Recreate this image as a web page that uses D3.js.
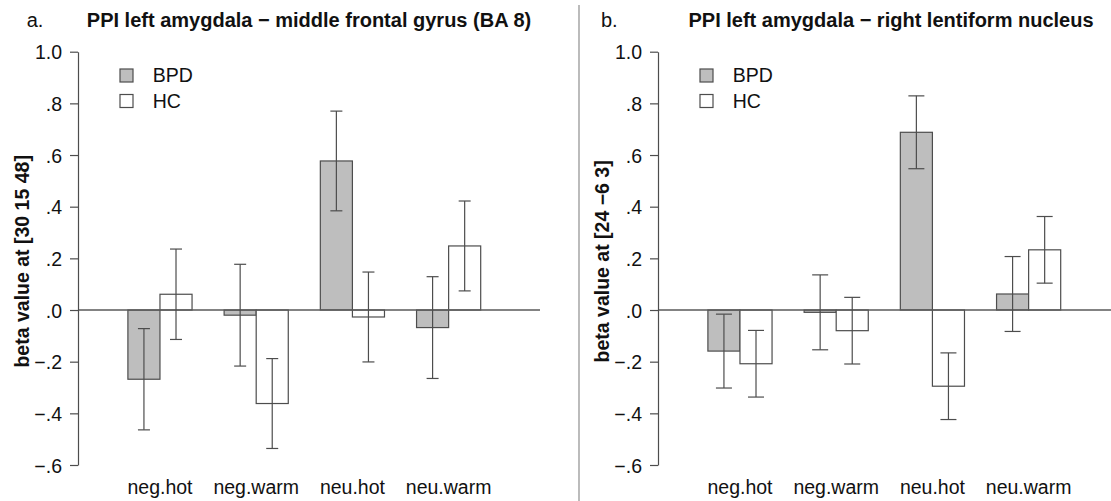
<!DOCTYPE html>
<html>
<head>
<meta charset="utf-8">
<script src="https://cdn.jsdelivr.net/npm/d3@7"></script>
<style>
  html, body { margin: 0; padding: 0; background: #fff; }
  svg { display: block; }
  text { font-family: "Liberation Sans", Arial, sans-serif; fill: #111; }
</style>
</head>
<body>
<svg id="chart" width="1111" height="501"></svg>
<script>
// ---------------- data ----------------
const categories = ["neg.hot", "neg.warm", "neu.hot", "neu.warm"];
const groups = ["BPD", "HC"];

const panelLetters = ["a.", "b."];
const panelTitles = [
  "PPI left amygdala \u2212 middle frontal gyrus (BA 8)",
  "PPI left amygdala \u2212 right lentiform nucleus"
];
const yLabels = ["beta value at [30 15 48]", "beta value at [24 \u22126 3]"];

// panel a
const bpdA = [-0.268, -0.020, 0.577, -0.068];
const bpdAErr = [0.196, 0.197, 0.193, 0.197];
const hcA = [0.061, -0.362, -0.027, 0.248];
const hcAErr = [0.175, 0.174, 0.174, 0.174];

// panel b
const bpdB = [-0.159, -0.009, 0.688, 0.062];
const bpdBErr = [0.143, 0.145, 0.141, 0.145];
const hcB = [-0.208, -0.080, -0.295, 0.233];
const hcBErr = [0.129, 0.129, 0.129, 0.129];

const yTicks = [1.0, 0.8, 0.6, 0.4, 0.2, 0.0, -0.2, -0.4, -0.6];
const yTickLabels = ["1.0", ".8", ".6", ".4", ".2", ".0", "\u2212.2", "\u2212.4", "\u2212.6"];

// ---------------- layout ----------------
const svg = d3.select("#chart");
const fills = { BPD: "#bebebe", HC: "#ffffff" };
const lineCol = "#4d4d4d";
const fs = 19.5;

const y = d3.scaleLinear().domain([-0.6, 1.0]).range([465, 51.7]);

function drawPanel(idx, dx, bpd, bpdErr, hc, hcErr, capW, titleShift) {
  const g = svg.append("g").attr("transform", `translate(${dx},0)`);
  const axisX = 78, plotRight = 540;

  const x0 = d3.scaleBand().domain(categories).range([127.9, 480.7])
    .paddingInner(1 / 3).paddingOuter(0);
  const x1 = d3.scaleBand().domain(groups).range([0, x0.bandwidth()]).padding(0);

  const rows = [];
  categories.forEach((c, i) => {
    rows.push({ cat: c, grp: "BPD", v: bpd[i], e: bpdErr[i] });
    rows.push({ cat: c, grp: "HC", v: hc[i], e: hcErr[i] });
  });

  // bars
  g.selectAll("rect.bar").data(rows).join("rect")
    .attr("class", "bar")
    .attr("x", d => x0(d.cat) + x1(d.grp))
    .attr("width", x1.bandwidth())
    .attr("y", d => Math.min(y(d.v), y(0)))
    .attr("height", d => Math.abs(y(d.v) - y(0)))
    .attr("fill", d => fills[d.grp])
    .attr("stroke", lineCol)
    .attr("stroke-width", 1.2);

  // zero line
  g.append("line")
    .attr("x1", axisX).attr("x2", plotRight)
    .attr("y1", y(0)).attr("y2", y(0))
    .attr("stroke", "#5a5a5a").attr("stroke-width", 1.5);

  // error bars
  const eb = g.selectAll("g.err").data(rows).join("g").attr("class", "err");
  const cx = d => x0(d.cat) + x1(d.grp) + x1.bandwidth() / 2;
  eb.append("line")
    .attr("x1", cx).attr("x2", cx)
    .attr("y1", d => y(d.v + d.e)).attr("y2", d => y(d.v - d.e))
    .attr("stroke", lineCol).attr("stroke-width", 1.2);
  eb.append("line")
    .attr("x1", d => cx(d) - capW / 2).attr("x2", d => cx(d) + capW / 2)
    .attr("y1", d => y(d.v + d.e)).attr("y2", d => y(d.v + d.e))
    .attr("stroke", lineCol).attr("stroke-width", 1.2);
  eb.append("line")
    .attr("x1", d => cx(d) - capW / 2).attr("x2", d => cx(d) + capW / 2)
    .attr("y1", d => y(d.v - d.e)).attr("y2", d => y(d.v - d.e))
    .attr("stroke", lineCol).attr("stroke-width", 1.2);

  // y axis
  const yAxis = d3.axisLeft(y).tickValues(yTicks)
    .tickFormat((d, i) => yTickLabels[i]).tickSize(8).tickSizeOuter(0).tickPadding(8);
  const ax = g.append("g").attr("transform", `translate(${axisX},0)`).call(yAxis);
  ax.select(".domain").attr("stroke", lineCol).attr("stroke-width", 1.2);
  ax.selectAll(".tick line").attr("stroke", lineCol).attr("stroke-width", 1.2);
  ax.selectAll(".tick text")
    .attr("font-family", "Liberation Sans, Arial, sans-serif")
    .attr("font-size", fs).attr("fill", "#111").attr("dy", "0.36em");

  // x category labels
  g.selectAll("text.cat").data(categories).join("text")
    .attr("class", "cat")
    .attr("x", d => x0(d) + x0.bandwidth() / 2)
    .attr("y", 494)
    .attr("text-anchor", "middle")
    .attr("font-size", fs)
    .text(d => d);

  // y label
  g.append("text")
    .attr("transform", `translate(29,${(y(1.0) + y(-0.6)) / 2 + 3}) rotate(-90)`)
    .attr("text-anchor", "middle")
    .attr("font-size", fs).attr("font-weight", "bold")
    .text(yLabels[idx]);

  // title
  g.append("text")
    .attr("x", (axisX + plotRight) / 2 + titleShift).attr("y", 26.5)
    .attr("text-anchor", "middle")
    .attr("font-size", 20).attr("font-weight", "bold")
    .text(panelTitles[idx]);

  // legend
  const lg = g.selectAll("g.leg").data(groups).join("g").attr("class", "leg")
    .attr("transform", (d, i) => `translate(120,${69 + i * 25.5})`);
  lg.append("rect").attr("width", 13).attr("height", 13)
    .attr("fill", d => fills[d]).attr("stroke", lineCol).attr("stroke-width", 1.2);
  lg.append("text").attr("x", 32.7).attr("y", 13).attr("font-size", fs).text(d => d);
}

drawPanel(0, 0, bpdA, bpdAErr, hcA, hcAErr, 12, 0);
drawPanel(1, 580, bpdB, bpdBErr, hcB, hcBErr, 16, 2);

// panel letters
svg.append("text").attr("x", 26.7).attr("y", 26.5).attr("font-size", 20).text(panelLetters[0]);
svg.append("text").attr("x", 601).attr("y", 26.5).attr("font-size", 20).text(panelLetters[1]);

// separator
svg.append("line").attr("x1", 579).attr("x2", 579).attr("y1", 5).attr("y2", 501)
  .attr("stroke", "#ababab").attr("stroke-width", 1.6);
</script>
</body>
</html>
